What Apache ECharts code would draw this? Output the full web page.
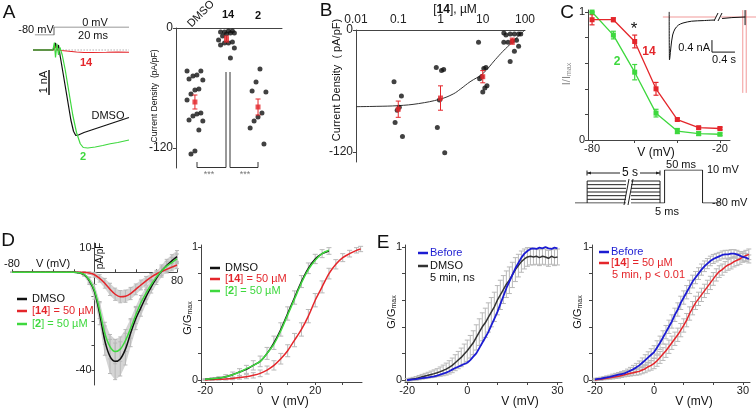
<!DOCTYPE html>
<html><head><meta charset="utf-8">
<script src="https://cdn.jsdelivr.net/npm/echarts@6/dist/echarts.min.js"></script>
<style>html,body{margin:0;padding:0;background:#fff}#c{width:756px;height:410px}</style>
</head><body><div id="c"></div>
<script>
// ================= DATA =================
// Panel A: current traces (time ms, current nA)
const aTimeDmso = [-5.6,-0.3,0,0.4,0.8,1.2,1.6,2.5,3.5,4.5,5.2,5.8,6.5,8,10,12,14,16,18,20];
const aTraceDmso = [0,0,0.1,0.28,0,0.2,-0.2,-1.0,-1.9,-2.8,-3.25,-3.42,-3.4,-3.3,-3.2,-3.1,-3.0,-2.9,-2.8,-2.7];
const aTimeTwo = [-5.6,-0.3,0.1,0.4,0.8,1.2,1.6,2.2,3,4,5,6,7,7.8,9,11,13,15,17,20];
const aTraceTwo = [0,0,0.3,-0.3,0.25,-0.2,0.1,-0.2,-0.8,-1.7,-2.6,-3.3,-3.75,-3.9,-3.92,-3.88,-3.82,-3.75,-3.7,-3.6];
const aTime14 = [-5.6,0,0.3,0.8,2,4,6,8,10,14,17,20];
const aTrace14 = [0,0,0.2,0,-0.02,-0.05,-0.08,-0.1,-0.1,-0.09,-0.08,-0.09];
const aStepTime = [-5.1,0,0,20];
const aStepMv = [-80,-80,0,0];
const aScaleNA = 1;
// Panel A: current density scatter
const aCats = ['DMSO','14','2'];
const aDmso = [-43,-43,-47,-48,-51,-52,-61,-62,-66,-72,-85,-86,-88,-92,-93,-102,-123,-126];
const a14 = [-3,-3,-4,-4,-5,-5,-6,-8,-12,-14,-15,-15,-17,-20,-30];
const a2 = [-41,-54,-63,-64,-85,-89,-93,-100,-116];
const aMean = [-74,-11,-79];
const aSem = [7,3,8];
// Panel B: dose response
const bConc = [0.1,1,10,50];
const bPts01 = [-51,-65,-76,-79,-91,-105];
const bPts1 = [-37,-39,-40,-69,-96,-121];
const bPts10 = [-12,-37,-38,-46,-48,-55,-57,-61];
const bPts50 = [-3,-4,-4,-4,-5,-4,-10,-11,-12,-12,-16,-21,-31];
const bMean = [-78,-67,-46,-11];
const bSem = [8,12,6,3];
const bFitConc = [0.01,0.03,0.1,0.3,1,2,3,5,10,20,30,50,70,100];
const bFitVal = [-75.5,-75.2,-74.5,-72.5,-68,-63,-58,-51,-43,-29,-21,-12,-6,0];
// Panel C: steady-state inactivation
const cV = [-80,-70,-60,-50,-40,-30,-20];
const cTwo = [1.0,0.82,0.53,0.21,0.07,0.05,0.045];
const cTwoErr = [0,0.03,0.06,0.03,0.02,0.015,0.01];
const c14 = [0.94,0.94,0.77,0.40,0.16,0.096,0.09];
const c14Err = [0.04,0.015,0.05,0.05,0.01,0.01,0.01];
// Panel C inset trace (s, nA)
const insT = [0.16,0.16,0.165,0.17,0.19,0.22,0.26,0.32,0.4,0.55,0.75,0.95];
const insI = [0.17,-0.2,-1.43,-1.38,-1.0,-0.6,-0.4,-0.27,-0.2,-0.14,-0.12,-0.1];
const insT2 = [1.08,1.25,1.48];
const insI2 = [-0.05,-0.02,0];
// Panel C protocol (mV)
const protoPre = [-80,-70,-60,-50,-40,-30,-20];
const protoTest = 10;
const protoHold = -80;
// Panel D left: I-V
const dV = [-80,-75,-70,-65,-60,-55,-50,-45,-40,-35,-30,-25,-20,-15,-10,-5,0,5,10,15,20,25,30,35,40,45,50,55,60,65,70,75,80];
const dDmso = [0,0,0,0,0,0,0,0,0,0,0,0,0,-0.2,-1,-3.5,-8,-17,-28,-34.5,-36.5,-35.5,-31.5,-25,-19,-14.5,-10,-6,-2.5,0.5,2.8,4.7,6.4];
const dDmsoErr = [0,0,0,0,0,0,0,0,0,0,0,0,0,0.2,0.6,1.5,3,4.5,6,7,7.5,7,6.5,5.5,4.5,3.5,3,2.5,2.5,2.5,2.5,2.5,2.5];
const d14 = [0,0,0,0,0,0,0,0,0,0,0,0,0,0,0,-0.3,-1,-2.5,-4.5,-7,-9,-10,-9.8,-8.7,-7,-5.2,-3.5,-2,-0.7,0.3,1.2,2.1,3];
const d14Err = [0,0,0,0,0,0,0,0,0,0,0,0,0,0,0.2,0.5,1,1.5,2,2.5,2.5,2.5,2.5,2.5,2.2,2,1.8,1.5,1.5,1.5,1.5,1.5,1.5];
const d2 = [0,0,0,0,0,0,0,0,0,0,0,0,0,-0.2,-0.9,-3.2,-7.5,-15.5,-25,-30.5,-32.5,-31.5,-28,-23,-17.5,-12.5,-8.5,-5,-2,0.5,2.5,4,5.5];
const d2Err = [0,0,0,0,0,0,0,0,0,0,0,0,0,0.2,0.5,1.2,2.5,3.5,4.5,5,5,5,4.5,4,3.5,3,2.5,2,2,2,2,2,2];
// Panel D right: G-V
const drV = [-20,-17.5,-15,-12.5,-10,-7.5,-5,-2.5,0,2.5,5,7.5,10,12.5,15,17.5,20,22.5,25];
const drDmso = [0.005,0.01,0.015,0.025,0.04,0.06,0.08,0.11,0.14,0.2,0.28,0.38,0.5,0.62,0.74,0.84,0.91,0.95,0.97];
const drTwo = [0.005,0.01,0.015,0.025,0.04,0.06,0.085,0.11,0.14,0.2,0.27,0.37,0.49,0.61,0.73,0.83,0.9,0.95,0.975];
const drErr = [0.005,0.008,0.01,0.015,0.02,0.025,0.03,0.035,0.04,0.045,0.05,0.05,0.05,0.05,0.045,0.04,0.035,0.03,0.025];
const drV14 = [-20,-17.5,-15,-12.5,-10,-7.5,-5,-2.5,0,2.5,5,7.5,10,12.5,15,17.5,20,22.5,25,27.5,30,32.5,35,36.5];
const dr14 = [0,0.003,0.005,0.008,0.012,0.018,0.025,0.035,0.05,0.075,0.11,0.16,0.22,0.3,0.38,0.48,0.6,0.7,0.8,0.87,0.92,0.95,0.975,0.985];
const dr14Err = [0.004,0.005,0.006,0.008,0.01,0.012,0.015,0.02,0.025,0.03,0.035,0.04,0.045,0.05,0.05,0.05,0.05,0.045,0.04,0.035,0.03,0.025,0.02,0.02];
// Panel E: G-V before/after
const eV = [-20,-19,-18,-17,-16,-15,-14,-13,-12,-11,-10,-9,-8,-7,-6,-5,-4,-3,-2,-1,0,1,2,3,4,5,6,7,8,9,10,11,12,13,14,15,16,17,18,19,20,21,22,23,24,25,26,27,28,29,30];
const eBefore1 = [0,0.002,0.004,0.006,0.01,0.014,0.017,0.02,0.024,0.028,0.033,0.04,0.048,0.056,0.066,0.078,0.09,0.1,0.11,0.12,0.13,0.15,0.175,0.2,0.24,0.28,0.32,0.36,0.41,0.46,0.51,0.57,0.63,0.69,0.74,0.79,0.84,0.88,0.92,0.95,0.97,0.985,0.99,0.985,0.995,0.99,1.0,0.99,0.985,0.995,0.99];
const eDmso = [0,0.004,0.008,0.012,0.018,0.024,0.03,0.036,0.042,0.048,0.055,0.063,0.072,0.082,0.095,0.11,0.13,0.15,0.17,0.195,0.22,0.25,0.28,0.32,0.36,0.4,0.43,0.47,0.51,0.55,0.6,0.64,0.68,0.72,0.75,0.79,0.83,0.86,0.89,0.91,0.925,0.93,0.925,0.93,0.92,0.93,0.925,0.915,0.93,0.92,0.925];
const eDmsoErr = [0.01,0.01,0.012,0.014,0.016,0.018,0.02,0.022,0.025,0.028,0.03,0.035,0.04,0.045,0.05,0.055,0.06,0.065,0.07,0.075,0.08,0.085,0.09,0.095,0.1,0.105,0.11,0.11,0.11,0.11,0.11,0.11,0.105,0.1,0.1,0.095,0.09,0.085,0.08,0.075,0.07,0.065,0.06,0.06,0.06,0.06,0.06,0.06,0.06,0.06,0.06];
const eVR = [-20,-19,-18,-17,-16,-15,-14,-13,-12,-11,-10,-9,-8,-7,-6,-5,-4,-3,-2,-1,0,1,2,3,4,5,6,7,8,9,10,11,12,13,14,15,16,17,18,19,20,21,22,23,24,25,26,27,28,29,30,31,32];
const eBefore2 = [0.005,0.008,0.011,0.015,0.019,0.024,0.03,0.035,0.04,0.045,0.05,0.06,0.07,0.082,0.095,0.11,0.13,0.15,0.17,0.19,0.21,0.245,0.28,0.32,0.36,0.4,0.44,0.49,0.53,0.58,0.62,0.66,0.7,0.74,0.77,0.8,0.83,0.855,0.875,0.895,0.91,0.92,0.93,0.94,0.945,0.945,0.95,0.95,0.945,0.935,0.925,0.92,0.91];
const eBefore2Err = [0.008,0.008,0.01,0.01,0.012,0.012,0.014,0.015,0.016,0.018,0.02,0.022,0.025,0.028,0.03,0.033,0.036,0.04,0.042,0.045,0.048,0.05,0.05,0.05,0.05,0.05,0.05,0.05,0.05,0.05,0.05,0.05,0.05,0.048,0.046,0.044,0.042,0.04,0.038,0.036,0.034,0.032,0.03,0.03,0.03,0.03,0.03,0.03,0.03,0.03,0.03,0.03,0.03];
const e14 = [0,0.003,0.006,0.01,0.013,0.016,0.02,0.024,0.028,0.034,0.04,0.045,0.05,0.055,0.06,0.065,0.075,0.085,0.1,0.11,0.125,0.145,0.17,0.195,0.22,0.25,0.28,0.31,0.34,0.375,0.41,0.45,0.5,0.54,0.58,0.61,0.64,0.67,0.7,0.73,0.76,0.79,0.815,0.83,0.85,0.865,0.875,0.89,0.9,0.91,0.925,0.935,0.945];
const e14Err = [0.006,0.006,0.008,0.008,0.01,0.01,0.012,0.012,0.014,0.015,0.016,0.018,0.02,0.022,0.024,0.026,0.028,0.03,0.033,0.036,0.04,0.042,0.045,0.048,0.05,0.05,0.05,0.05,0.05,0.05,0.05,0.05,0.05,0.05,0.05,0.05,0.05,0.05,0.05,0.05,0.048,0.046,0.044,0.042,0.04,0.04,0.04,0.04,0.04,0.04,0.04,0.04,0.04];

// ================= STYLE / HELPERS =================
const FONT = '"Liberation Sans", Arial, Helvetica, sans-serif';
const RED = '#e4262b', GREEN = '#3ed83e', BLUE = '#1c1cd2', BLK = '#111', EG = '#b8b8b8', AX = '#444';
const zip = (xs, ys) => xs.map((x, i) => [x, ys[i]]);
const zip3 = (xs, ys, es) => xs.map((x, i) => [x, ys[i], es[i]]);

function hid(gi, min, max, extra) { return Object.assign({gridIndex: gi, type: 'value', min, max, show: false, splitLine: {show: false}}, extra || {}); }
function ax(gi, pos, min, max, ticks, labels, extra) {
  const o = {
    gridIndex: gi, type: 'value', position: pos, min, max,
    splitLine: {show: false},
    axisLine: {show: true, onZero: false, lineStyle: {color: AX, width: 1}},
    axisTick: {show: ticks !== null, length: 3, customValues: ticks || [], lineStyle: {color: AX}},
    axisLabel: {show: labels !== null, customValues: labels || [], color: '#222', fontSize: 11, fontFamily: FONT, margin: 3},
  };
  return Object.assign(o, extra || {});
}
function errRender(color, capW, lw) {
  return function (params, api) {
    const x = api.value(0), y = api.value(1), e = api.value(2);
    const p1 = api.coord([x, y + e]), p2 = api.coord([x, y - e]);
    const w = capW / 2, st = {stroke: color, lineWidth: lw};
    return {type: 'group', children: [
      {type: 'line', shape: {x1: p1[0], y1: p1[1], x2: p2[0], y2: p2[1]}, style: st},
      {type: 'line', shape: {x1: p1[0] - w, y1: p1[1], x2: p1[0] + w, y2: p1[1]}, style: st},
      {type: 'line', shape: {x1: p2[0] - w, y1: p2[1], x2: p2[0] + w, y2: p2[1]}, style: st}
    ]};
  };
}
function errS(idx, data, color, capW, lw, z) {
  return {type: 'custom', xAxisIndex: idx, yAxisIndex: idx, data, renderItem: errRender(color, capW, lw || 1),
    encode: {x: 0, y: 1}, z: z || 2, silent: true, clip: false};
}
// shaded band (mean ± err) drawn through the axis scales
function bandS(idx, data, color) {
  return {type: 'custom', xAxisIndex: idx, yAxisIndex: idx, data, encode: {x: 0, y: 1}, z: 1, silent: true, clip: false,
    renderItem: function (params, api) {
      if (params.dataIndex !== 0) return null;
      const up = data.map(d => api.coord([d[0], d[1] + d[2]]));
      const lo = data.map(d => api.coord([d[0], d[1] - d[2]])).reverse();
      return {type: 'polygon', shape: {points: up.concat(lo)}, style: {fill: color}};
    }};
}
function lineS(idx, data, color, lw, extra) {
  return Object.assign({type: 'line', xAxisIndex: idx, yAxisIndex: idx, data, showSymbol: false, symbol: 'none',
    lineStyle: {color, width: lw}, itemStyle: {color}, z: 3, silent: true, animation: false}, extra || {});
}
function jit(i, spread) { return ((((i * 7) % 9) / 8) - 0.5) * spread; }

// ================= GRIDS =================
const grids = [
  {left: 33, top: 38, width: 96, height: 122},   // 0 A traces
  {left: 33, top: 27, width: 96, height: 8},     // 1 A voltage step
  {left: 176, top: 28, width: 106, height: 140}, // 2 A scatter
  {left: 356, top: 30, width: 169, height: 132}, // 3 B
  {left: 588, top: 10, width: 142, height: 130}, // 4 C
  {left: 660, top: 8, width: 96, height: 90},    // 5 C inset
  {left: 575, top: 170, width: 145, height: 33}, // 6 C protocol
  {left: 12, top: 243, width: 165, height: 142}, // 7 D left
  {left: 201, top: 245, width: 161, height: 137},// 8 D right
  {left: 405, top: 245, width: 157, height: 137},// 9 E left
  {left: 592, top: 245, width: 158, height: 137} // 10 E right
];
// D-left axes cross at the origin: shift them in by the origin's offset from the grid edges
const dMinX = -80, dMaxX = 80, dMinY = -46.2, dMaxY = 12;
const dYOff = -(grids[7].width * (0 - dMinX) / (dMaxX - dMinX));
const dXOff = -(grids[7].height * (0 - dMinY) / (dMaxY - dMinY));

const xAxes = [
  hid(0, -5.6, 20), hid(1, -5.6, 20),
  ax(2, 'top', 0.4, 3.76, null, null),
  {gridIndex: 3, type: 'log', logBase: 10, position: 'top', min: 0.01, max: 100, splitLine: {show: false},
   axisLine: {show: true, onZero: false, lineStyle: {color: AX}}, axisTick: {show: false}, minorTick: {show: false},
   axisLabel: {color: '#222', fontSize: 12, fontFamily: FONT, margin: 4, formatter: v => String(+(+v).toPrecision(3))}},
  ax(4, 'bottom', -81.9, -15.3, [-80, -60, -40, -20], [-80, -20]),
  hid(5, 0, 1.67), hid(6, 0, 191),
  ax(7, 'bottom', dMinX, dMaxX, [-80, -60, -40, -20, 20, 40, 60, 80], [80], {offset: dXOff}),
  ax(8, 'bottom', -21.5, 37, [-20, -10, 0, 10, 20, 30], [-20, 0, 20]),
  ax(9, 'bottom', -20.7, 31.5, [-20, -10, 0, 10, 20, 30], [-20, 0, 30]),
  ax(10, 'bottom', -21, 32.4, [-20, -10, 0, 10, 20, 30], [-20, 0, 30])
];
xAxes[7].axisTick.inside = true;
const yAxes = [
  hid(0, -4.4, 0.48), hid(1, -80, 0),
  ax(2, 'left', -140, 0, [0, -120], [0, -120]),
  ax(3, 'left', -130, 0, [0, -120], [0, -120]),
  ax(4, 'left', 0, 1.016, [0, 0.2, 0.4, 0.6, 0.8, 1], [0, 1]),
  hid(5, -2.7, 0.3), hid(6, -80, 10),
  ax(7, 'left', dMinY, dMaxY, [10, 0, -10, -20, -30, -40], [10, -40], {offset: dYOff}),
  ax(8, 'left', -0.015, 1.015, [0, 0.2, 0.4, 0.6, 0.8, 1], [0, 1]),
  ax(9, 'left', -0.015, 1.015, [0, 0.2, 0.4, 0.6, 0.8, 1], [0, 1]),
  ax(10, 'left', -0.015, 1.015, [0, 0.2, 0.4, 0.6, 0.8, 1], [0, 1])
];
yAxes[3].axisLabel.fontSize = 12;
yAxes[2].axisLabel.fontSize = 12;

// ================= SERIES =================
const series = [];
// A traces
series.push(lineS(0, [[1.5, 0], [20, 0]], '#888', 1, {lineStyle: {color: '#888', width: 1, type: [1, 2]}}));
series.push(lineS(0, zip(aTime14, aTrace14), RED, 1.2));
series.push(lineS(0, zip(aTimeDmso, aTraceDmso), BLK, 1.2));
series.push(lineS(0, zip(aTimeTwo, aTraceTwo), GREEN, 1.2));
series.push(lineS(0, [[-1.33, -0.8], [-1.33, -0.8 - aScaleNA]], BLK, 1.5));
series.push(lineS(1, zip(aStepTime, aStepMv), '#777', 1.2));
// A scatter
const aGroups = [aDmso, a14, a2];
aGroups.forEach((g, gi) => {
  series.push({type: 'scatter', xAxisIndex: 2, yAxisIndex: 2, symbolSize: 5, itemStyle: {color: BLK},
    data: g.map((v, i) => [gi + 1 + jit(i + gi, 0.5), v]), z: 3, silent: true});
});
series.push(errS(2, aMean.map((m, i) => [i + 1, m, aSem[i]]), RED, 5, 1, 4));
series.push({type: 'scatter', xAxisIndex: 2, yAxisIndex: 2, symbol: 'rect', symbolSize: 5, itemStyle: {color: RED},
  data: aMean.map((m, i) => [i + 1, m]), z: 5, silent: true});
// B
series.push(lineS(3, zip(bFitConc, bFitVal), '#333', 1, {smooth: 0.4}));
[bPts01, bPts1, bPts10, bPts50].forEach((g, gi) => {
  const sp = gi === 3 ? 0.4 : 0.2;
  series.push({type: 'scatter', xAxisIndex: 3, yAxisIndex: 3, symbolSize: 5, itemStyle: {color: BLK},
    data: g.map((v, i) => [bConc[gi] * Math.pow(10, jit(i, sp)), v]), z: 3, silent: true});
});
series.push(errS(3, bMean.map((m, i) => [bConc[i], m, bSem[i]]), RED, 5, 1, 4));
series.push({type: 'scatter', xAxisIndex: 3, yAxisIndex: 3, symbol: 'rect', symbolSize: 5, itemStyle: {color: RED},
  data: bMean.map((m, i) => [bConc[i], m]), z: 5, silent: true});
// C
series.push(errS(4, zip3(cV, cTwo, cTwoErr), GREEN, 5, 1.2, 3));
series.push(errS(4, zip3(cV, c14, c14Err), RED, 5, 1.2, 3));
series.push(lineS(4, zip(cV, cTwo), GREEN, 1.3, {showSymbol: true, symbol: 'rect', symbolSize: 5}));
series.push(lineS(4, zip(cV, c14), RED, 1.3, {showSymbol: true, symbol: 'rect', symbolSize: 5}));
// C inset
const RL = 'rgba(232,70,70,0.55)';
series.push(lineS(5, [[0.05, 0], [1.67, 0]], RL, 1));
series.push(lineS(5, [[1.44, 0.23], [1.44, -2.53]], RL, 1));
series.push(lineS(5, [[1.5, 0.23], [1.5, -2.53]], RL, 1));
series.push(lineS(5, zip(insT, insI), BLK, 1, {smooth: 0.3}));
series.push(lineS(5, zip(insT2, insI2), BLK, 1));
series.push(lineS(5, [[1.48, 0.23], [1.48, -0.27]], BLK, 1));
series.push(lineS(5, [[0.904, -0.77], [0.904, -1.17], [1.304, -1.17]], BLK, 1));
// C protocol
protoPre.forEach(v => series.push(lineS(6, [[16, v], [112, v]], '#222', 1)));
series.push(lineS(6, [[0, protoHold], [16, protoHold], [16, protoPre[protoPre.length - 1]]], '#222', 1));
series.push(lineS(6, [[112, protoPre[protoPre.length - 1]], [112, protoHold], [118, protoHold], [118, protoTest], [168, protoTest], [168, protoHold], [191, protoHold]], '#222', 1));
// D left
series.push(bandS(7, zip3(dV, dDmso, dDmsoErr), '#d4d4d4'));
series.push(bandS(7, zip3(dV, d2, d2Err), '#d4d4d4'));
series.push(bandS(7, zip3(dV, d14, d14Err), '#d4d4d4'));
series.push(errS(7, zip3(dV, dDmso, dDmsoErr), EG, 4, 1, 2));
series.push(errS(7, zip3(dV, d2, d2Err), EG, 4, 1, 2));
series.push(errS(7, zip3(dV, d14, d14Err), EG, 4, 1, 2));
series.push(lineS(7, zip(dV, d14), RED, 1.5, {smooth: 0.3}));
series.push(lineS(7, zip(dV, dDmso), BLK, 1.5, {smooth: 0.3}));
series.push(lineS(7, zip(dV, d2), GREEN, 1.5, {smooth: 0.3}));
// D right
series.push(errS(8, zip3(drV, drDmso, drErr), EG, 5, 1, 2));
series.push(errS(8, zip3(drV14, dr14, dr14Err), EG, 5, 1, 2));
series.push(lineS(8, zip(drV14, dr14), RED, 1.5, {smooth: 0.3}));
series.push(lineS(8, zip(drV, drDmso), BLK, 1.5, {smooth: 0.3}));
series.push(lineS(8, zip(drV, drTwo), GREEN, 1.5, {smooth: 0.3}));
// E left
series.push(errS(9, zip3(eV, eDmso, eDmsoErr), EG, 5, 1, 2));
series.push(lineS(9, zip(eV, eDmso), '#333', 1.5));
series.push(lineS(9, zip(eV, eBefore1), BLUE, 1.8));
// E right
series.push(errS(10, zip3(eVR, eBefore2, eBefore2Err), EG, 5, 1, 2));
series.push(errS(10, zip3(eVR, e14, e14Err), EG, 5, 1, 2));
series.push(lineS(10, zip(eVR, e14), RED, 1.5));
series.push(lineS(10, zip(eVR, eBefore2), BLUE, 1.8));

// ================= TEXT / ANNOTATIONS =================
const G = [];
function T(text, x, y, o) {
  o = o || {};
  G.push({type: 'text', x, y, z: 50, rotation: o.rot || 0, silent: true,
    style: {text, fill: o.color || '#111', fontSize: o.size || 11, fontFamily: FONT, fontWeight: o.weight || 'normal',
      align: o.align || 'center', verticalAlign: 'middle', textAlign: o.align || 'center', textVerticalAlign: 'middle',
      rich: o.rich, backgroundColor: o.bg, padding: o.pad}});
}
function L(pts, color, lw) {
  G.push({type: 'polyline', z: 50, silent: true, shape: {points: pts}, style: {stroke: color || '#333', lineWidth: lw || 1, fill: null}});
}
function R(x, y, w, h) { G.push({type: 'rect', z: 49, silent: true, shape: {x, y, width: w, height: h}, style: {fill: '#fff'}}); }
const boldRich = (c, s) => ({b: {fontWeight: 'bold', fill: c, fontSize: s || 11, fontFamily: FONT}});
const subR = (c) => ({s: {fontSize: 7, fontFamily: FONT, fill: c, padding: [5, 0, 0, 0]}});

// panel letters
T('A', 9, 13, {size: 19}); T('B', 326, 11, {size: 19}); T('C', 567, 13, {size: 19});
T('D', 8, 241, {size: 19}); T('E', 383, 243, {size: 19});
// A
T('0 mV', 95, 23); T('20 ms', 93, 36); T('-80 mV', 36, 30);
T('14', 86, 63, {color: RED, weight: 'bold'}); T('DMSO', 108, 116); T('2', 83, 157, {color: GREEN, weight: 'bold'});
T('1 nA', 44, 82, {rot: Math.PI / 2});
T('DMSO', 201, 14, {rot: Math.PI / 4});
T('14', 228, 15, {weight: 'bold'}); T('2', 258, 16, {weight: 'bold'});
T('Current Density  (pA/pF)', 155, 96, {rot: Math.PI / 2, size: 8.6});
L([[197, 162], [197, 167.5], [226, 167.5], [226, 72]], '#333');
L([[230, 72], [230, 167.5], [258, 167.5], [258, 162]], '#333');
T('***', 209, 175, {color: '#777', size: 9}); T('***', 245, 175, {color: '#777', size: 9});
// B
T('[{b|14}], µM', 455, 10, {size: 12, rich: boldRich('#111', 12)});
T('Current Density  ( pA/pF)', 337, 80, {rot: Math.PI / 2});
// C
T('I/I{s|max}', 567, 74, {rot: Math.PI / 2, color: '#888', rich: subR('#888')});
T('V (mV)', 656, 153, {size: 12});
T('*', 634, 29, {size: 17});
T('14', 649, 52, {color: RED, weight: 'bold', size: 12}); T('2', 617, 62, {color: GREEN, weight: 'bold', size: 12});
T('0.4 nA', 710, 48, {align: 'right', size: 11});
T('0.4 s', 724, 60, {size: 11});
R(716, 12, 5, 10); L([[714, 21], [718, 13]], BLK); L([[718, 21], [722, 13]], BLK);
R(626, 178, 5, 28); L([[624, 205], [629, 179]], '#222'); L([[628, 205], [633, 179]], '#222');
L([[587, 173], [660, 173]], '#222'); L([[587, 170.5], [587, 175.5]], '#222'); L([[660, 170.5], [660, 175.5]], '#222');
G.push({type: 'polygon', z: 50, shape: {points: [[587, 173], [591, 171.5], [591, 174.5]]}, style: {fill: '#222'}});
G.push({type: 'polygon', z: 50, shape: {points: [[660, 173], [656, 171.5], [656, 174.5]]}, style: {fill: '#222'}});
T('5 s', 630, 173, {size: 12, bg: '#fff', pad: [0, 2]});
T('50 ms', 681, 165, {size: 11}); T('10 mV', 707, 170, {size: 11, align: 'left'}); T('-80 mV', 712, 203, {size: 11, align: 'left'}); T('5 ms', 667, 212, {size: 11});
// D left
T('-80', 12, 264, {size: 11}); T('V (mV)', 53, 264, {size: 11});
T('pA/pF', 100, 256, {rot: Math.PI / 2, size: 10});
L([[17, 299], [27, 299]], BLK, 2.5); T('DMSO', 32, 299, {align: 'left'});
L([[17, 311], [27, 311]], RED, 2.5); T('[{b|14}] = 50 µM', 32, 311, {align: 'left', color: RED, rich: boldRich(RED)});
L([[17, 324], [27, 324]], GREEN, 2.5); T('[{b|2}] = 50 µM', 32, 324, {align: 'left', color: GREEN, rich: boldRich(GREEN)});
// D right
T('G/G{s|max}', 188, 318, {rot: Math.PI / 2, rich: subR('#111')});
T('V (mV)', 290, 402, {size: 12});
L([[210, 268], [220, 268]], BLK, 2.5); T('DMSO', 225, 268, {align: 'left'});
L([[210, 279], [220, 279]], RED, 2.5); T('[{b|14}] = 50 µM', 225, 279, {align: 'left', color: RED, rich: boldRich(RED)});
L([[210, 291], [220, 291]], GREEN, 2.5); T('[{b|2}] = 50 µM', 225, 291, {align: 'left', color: GREEN, rich: boldRich(GREEN)});
// E left
T('G/G{s|max}', 392, 312, {rot: Math.PI / 2, rich: subR('#111')});
T('V (mV)', 520, 402, {size: 12});
L([[418, 253], [428, 253]], BLUE, 2.5); T('Before', 430, 253, {align: 'left', color: BLUE});
L([[418, 266], [428, 266]], '#333', 2.5); T('DMSO', 430, 266, {align: 'left'});
T('5 min, ns', 430, 278, {align: 'left'});
// E right
T('G/G{s|max}', 578, 312, {rot: Math.PI / 2, rich: subR('#111')});
T('V (mV)', 694, 402, {size: 12});
L([[599, 252], [609, 252]], BLUE, 2.5); T('Before', 611, 252, {align: 'left', color: BLUE});
L([[599, 263], [609, 263]], RED, 2.5); T('[{b|14}] = 50 µM', 611, 263, {align: 'left', color: RED, rich: boldRich(RED)});
T('5 min, p < 0.01', 612, 275, {align: 'left', color: RED});

const chart = echarts.init(document.getElementById('c'), null, {renderer: 'canvas'});
chart.setOption({
  animation: false, backgroundColor: '#fff',
  textStyle: {fontFamily: FONT},
  grid: grids, xAxis: xAxes, yAxis: yAxes, series, graphic: {elements: G}
});
</script></body></html>
